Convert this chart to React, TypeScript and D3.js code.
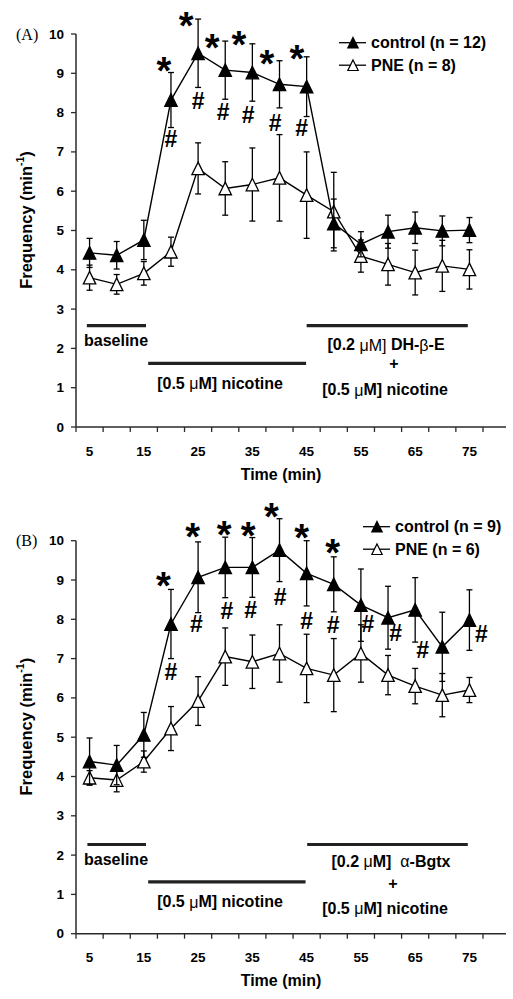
import React from "react";
import * as d3 from "d3";

// ---------- data ----------
const TIMES = [5, 10, 15, 20, 25, 30, 35, 40, 45, 50, 55, 60, 65, 70, 75];
const X_TICK_LABELS = [5, 15, 25, 35, 45, 55, 65, 75];
const X_TICK_MARKS = [2.5, 7.5, 12.5, 17.5, 22.5, 27.5, 32.5, 37.5, 42.5, 47.5, 52.5, 57.5, 62.5, 67.5, 72.5, 77.5];
const Y_TICKS = [0, 1, 2, 3, 4, 5, 6, 7, 8, 9, 10];

// Panel A
const A_CONTROL = [4.43, 4.37, 4.76, 8.32, 9.51, 9.08, 9.02, 8.72, 8.66, 5.18, 4.65, 4.97, 5.07, 4.99, 5.01];
const A_CONTROL_ERR = [0.37, 0.35, 0.5, 0.7, 0.87, 0.74, 0.73, 0.6, 0.76, 0.62, 0.32, 0.42, 0.4, 0.38, 0.32];
const A_PNE = [3.8, 3.63, 3.91, 4.46, 6.58, 6.07, 6.17, 6.34, 5.9, 5.48, 4.35, 4.14, 3.93, 4.1, 4.01];
const A_PNE_ERR = [0.32, 0.25, 0.3, 0.37, 0.65, 0.68, 0.93, 1.1, 1.1, 1.0, 0.41, 0.53, 0.57, 0.65, 0.5];
const A_STARS: [number, number][] = [[18.7, 9.29], [22.8, 10.43], [27.6, 9.87], [32.5, 9.95], [37.7, 9.47], [43.2, 9.59]];
const A_HASHES: [number, number][] = [[20.0, 7.35], [25.0, 8.32], [29.6, 8.04], [34.2, 7.94], [39.2, 7.76], [44.1, 7.63]];

// Panel B
const B_CONTROL = [4.38, 4.29, 5.06, 7.88, 9.07, 9.32, 9.32, 9.76, 9.17, 8.89, 8.36, 8.04, 8.24, 7.3, 7.98];
const B_CONTROL_ERR = [0.6, 0.5, 0.57, 0.88, 0.9, 0.77, 0.76, 0.8, 0.83, 0.7, 0.92, 0.8, 0.82, 0.88, 0.77];
const B_PNE = [3.97, 3.91, 4.38, 5.22, 5.92, 7.05, 6.92, 7.13, 6.75, 6.58, 7.13, 6.58, 6.3, 6.07, 6.2];
const B_PNE_ERR = [0.18, 0.3, 0.27, 0.56, 0.62, 0.73, 0.68, 0.73, 0.87, 0.93, 0.73, 0.5, 0.45, 0.55, 0.32];
const B_STARS: [number, number][] = [[18.6, 9.08], [24.0, 10.32], [29.8, 10.37], [34.2, 10.36], [38.5, 10.82], [44.1, 10.29], [49.8, 9.92]];
const B_HASHES: [number, number][] = [[20.0, 6.67], [24.7, 7.9], [30.3, 8.22], [34.7, 8.24], [40.1, 8.58], [45.0, 7.98], [49.9, 7.88], [56.3, 7.9], [61.4, 7.66], [66.4, 7.22], [77.2, 7.63]];

const A_LEGEND = ["control (n = 12)", "PNE (n = 8)"];
const B_LEGEND = ["control (n = 9)", "PNE (n = 6)"];

// treatment bars: [from, to, level]
const A_BARS: [number, number, number][] = [[4.5, 15.4, 2.58], [15.8, 44.9, 1.62], [45.0, 74.7, 2.58]];
const B_BARS: [number, number, number][] = [[4.6, 15.4, 2.27], [15.8, 44.8, 1.32], [45.1, 74.7, 2.27]];

// ---------- drawing ----------
const FONT = "'Liberation Sans', Arial, Helvetica, sans-serif";
const SERIF = "'Liberation Serif', 'Times New Roman', serif";

const x = d3.scaleLinear().domain([2.5, 77.5]).range([76, 483]);
const AXIS_END = 506;

type PanelProps = {
  y0: number;
  label: string;
  control: number[];
  controlErr: number[];
  pne: number[];
  pneErr: number[];
  stars: [number, number][];
  hashes: [number, number][];
  legend: string[];
  legendX: number;
  legendY: number;
  bars: [number, number, number][];
  variant: "A" | "B";
};

const TRI = "M0,-6.3L6.2,6.3L-6.2,6.3Z";

function Series({ means, errs, y, filled }: { means: number[]; errs: number[]; y: d3.ScaleLinear<number, number>; filled: boolean }) {
  const line = d3
    .line<number>()
    .x((_, i) => x(TIMES[i]))
    .y((d) => y(d));
  return (
    <g>
      <path d={line(means) || ""} fill="none" stroke="#000" strokeWidth={1.4} />
      {means.map((m, i) => {
        const cx = x(TIMES[i]);
        const top = y(m + errs[i]);
        const bot = y(m - errs[i]);
        return (
          <g key={i} stroke="#000" strokeWidth={1.3}>
            <line x1={cx} x2={cx} y1={top} y2={bot} />
            <line x1={cx - 3} x2={cx + 3} y1={top} y2={top} />
            <line x1={cx - 3} x2={cx + 3} y1={bot} y2={bot} />
          </g>
        );
      })}
      {means.map((m, i) => (
        <path
          key={"m" + i}
          d={TRI}
          transform={`translate(${x(TIMES[i])},${y(m)})`}
          fill={filled ? "#000" : "#fff"}
          stroke="#000"
          strokeWidth={1.3}
        />
      ))}
    </g>
  );
}

function Panel(p: PanelProps) {
  const y = d3.scaleLinear().domain([0, 10]).range([p.y0, p.y0 - 393]);
  const axisColor = "#2a2a2a";
  return (
    <g fontFamily={FONT}>
      {/* panel label */}
      <text x={16} y={y(10)} dominantBaseline="central" fontFamily={SERIF} fontSize={16}>
        {p.label}
      </text>
      {/* y axis */}
      <line x1={76} x2={76} y1={y(0)} y2={y(10)} stroke={axisColor} strokeWidth={1.5} />
      {Y_TICKS.map((t) => (
        <g key={t}>
          <line x1={71} x2={76} y1={y(t)} y2={y(t)} stroke={axisColor} strokeWidth={1.3} />
          <text x={64} y={y(t)} textAnchor="end" dominantBaseline="central" fontSize={13.5} fontWeight="bold">
            {t}
          </text>
        </g>
      ))}
      {/* x axis */}
      <line x1={76} x2={AXIS_END} y1={y(0)} y2={y(0)} stroke={axisColor} strokeWidth={1.5} />
      {X_TICK_MARKS.map((t) => (
        <line key={t} x1={x(t)} x2={x(t)} y1={y(0)} y2={y(0) + 5} stroke={axisColor} strokeWidth={1.3} />
      ))}
      {X_TICK_LABELS.map((t) => (
        <text key={t} x={x(t)} y={y(0) + 24} textAnchor="middle" dominantBaseline="central" fontSize={13.5} fontWeight="bold">
          {t}
        </text>
      ))}
      <text x={281} y={y(0) + 47} textAnchor="middle" dominantBaseline="central" fontSize={16} fontWeight="bold">
        Time (min)
      </text>
      <text
        transform={`translate(26,${y(0) - 207}) rotate(-90)`}
        textAnchor="middle"
        dominantBaseline="central"
        fontSize={16.5}
        fontWeight="bold"
      >
        Frequency (min
        <tspan fontSize={10.5} dy={-6}>
          -1
        </tspan>
        <tspan dy={6}>)</tspan>
      </text>

      {/* treatment bars */}
      {p.bars.map((b, i) => (
        <line key={i} x1={x(b[0])} x2={x(b[1])} y1={y(b[2])} y2={y(b[2])} stroke="#222" strokeWidth={3.2} />
      ))}
      <text x={84} y={y(p.bars[0][2]) + 15} dominantBaseline="central" fontSize={16} fontWeight="bold">
        baseline
      </text>
      <text x={220} y={y(p.bars[1][2]) + 20} textAnchor="middle" dominantBaseline="central" fontSize={16} fontWeight="bold">
        [0.5 <tspan fontWeight="normal">μ</tspan>M] nicotine
      </text>
      {p.variant === "A" ? (
        <text x={386} y={y(p.bars[2][2]) + 19} textAnchor="middle" dominantBaseline="central" fontSize={16} fontWeight="bold">
          [0.2<tspan fontWeight="normal"> μM]</tspan> DH-<tspan fontWeight="normal">β</tspan>-E
        </text>
      ) : (
        <text x={391} y={y(p.bars[2][2]) + 17} textAnchor="middle" dominantBaseline="central" fontSize={16} fontWeight="bold">
          [0.2 <tspan fontWeight="normal">μ</tspan>M]{"\u00a0\u00a0"}<tspan fontWeight="normal">α</tspan>-Bgtx
        </text>
      )}
      <text
        x={p.variant === "A" ? 394 : 393}
        y={y(p.bars[2][2]) + (p.variant === "A" ? 38 : 39)}
        textAnchor="middle"
        dominantBaseline="central"
        fontSize={16}
        fontWeight="bold"
      >
        +
      </text>
      <text
        x={385}
        y={y(p.bars[2][2]) + 64}
        textAnchor="middle"
        dominantBaseline="central"
        fontSize={16}
        fontWeight="bold"
      >
        [0.5 <tspan fontWeight="normal">μ</tspan>M] nicotine
      </text>

      {/* series: PNE below, control on top */}
      <Series means={p.pne} errs={p.pneErr} y={y} filled={false} />
      <Series means={p.control} errs={p.controlErr} y={y} filled={true} />

      {/* significance marks */}
      {p.stars.map((s, i) => (
        <text key={"s" + i} x={x(s[0])} y={y(s[1]) + 22} textAnchor="middle" fontSize={38} fontWeight="bold">
          *
        </text>
      ))}
      {p.hashes.map((h, i) => (
        <text key={"h" + i} x={x(h[0])} y={y(h[1]) + 8.5} textAnchor="middle" fontSize={23} fontWeight="bold">
          #
        </text>
      ))}

      {/* legend */}
      {p.legend.map((name, i) => {
        const ly = p.legendY + i * 22.5;
        return (
          <g key={name}>
            <line x1={p.legendX} x2={p.legendX + 27} y1={ly} y2={ly} stroke="#000" strokeWidth={1.3} />
            <path
              d="M0,-5.3L5.2,5.3L-5.2,5.3Z"
              transform={`translate(${p.legendX + 14},${ly})`}
              fill={i === 0 ? "#000" : "#fff"}
              stroke="#000"
              strokeWidth={1.2}
            />
            <text x={p.legendX + 32} y={ly} dominantBaseline="central" fontSize={16} fontWeight="bold">
              {name}
            </text>
          </g>
        );
      })}
    </g>
  );
}

export default function App() {
  return (
    <svg
      width={513}
      height={999}
      viewBox="0 0 513 999"
      style={{ position: "absolute", left: 0, top: 0, display: "block", background: "#fff" }}
    >
      <rect width={513} height={999} fill="#fff" />
      <Panel
        y0={427}
        label="(A)"
        control={A_CONTROL}
        controlErr={A_CONTROL_ERR}
        pne={A_PNE}
        pneErr={A_PNE_ERR}
        stars={A_STARS}
        hashes={A_HASHES}
        legend={A_LEGEND}
        legendX={339}
        legendY={42.7}
        bars={A_BARS}
        variant="A"
      />
      <Panel
        y0={933.7}
        label="(B)"
        control={B_CONTROL}
        controlErr={B_CONTROL_ERR}
        pne={B_PNE}
        pneErr={B_PNE_ERR}
        stars={B_STARS}
        hashes={B_HASHES}
        legend={B_LEGEND}
        legendX={363}
        legendY={526.7}
        bars={B_BARS}
        variant="B"
      />
    </svg>
  );
}
